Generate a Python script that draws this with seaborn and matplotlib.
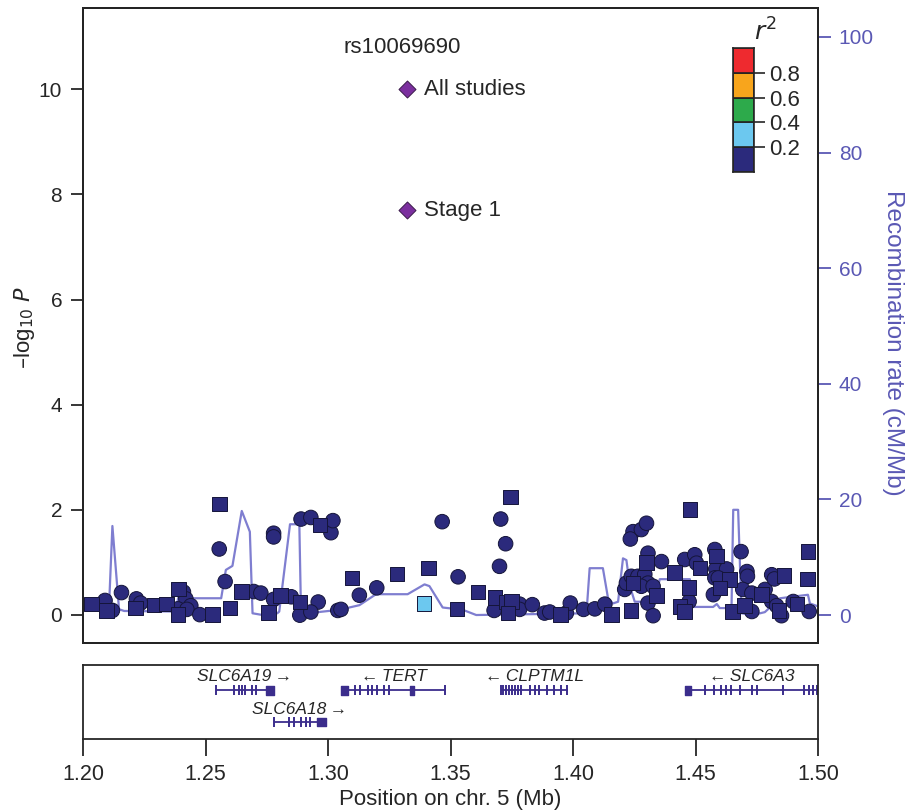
import numpy as np
import pandas as pd
import seaborn as sns
import matplotlib.pyplot as plt

# ---- data ----
circle_pos = [1.2090, 1.2120, 1.2157, 1.2218, 1.2235, 1.2410, 1.2420, 1.2387, 1.2440, 1.2424,
              1.2477, 1.2556, 1.2580, 1.2697, 1.2726, 1.2778, 1.2778, 1.2778, 1.2850, 1.2960,
              1.2885, 1.2930, 1.3040, 1.2890, 1.2930, 1.3012, 1.3020,
              1.3053, 1.3128, 1.3199, 1.3466, 1.3531, 1.3705, 1.3725, 1.3700, 1.3678, 1.3782,
              1.3782, 1.3834, 1.3884, 1.3905, 1.3973, 1.3989, 1.4043,
              1.4089, 1.4130, 1.4211, 1.4218, 1.4238, 1.4245, 1.4234, 1.4279, 1.4300, 1.4306,
              1.4265, 1.4293, 1.4306, 1.4279, 1.4327, 1.4306, 1.4327, 1.4361, 1.4456, 1.4497,
              1.4504, 1.4474, 1.4579, 1.4583, 1.4627, 1.4579, 1.4593, 1.4573, 1.4686, 1.4710,
              1.4712, 1.4693, 1.4730, 1.4730, 1.4784, 1.4811, 1.4822, 1.4811, 1.4831, 1.4851,
              1.4899, 1.4964]
circle_logp = [0.27, 0.08, 0.42, 0.30, 0.22, 0.43, 0.30, 0.11, 0.17, 0.10,
               0.00, 1.25, 0.63, 0.44, 0.41, 1.55, 1.48, 0.29, 0.34, 0.24,
               -0.01, 0.05, 0.08, 1.82, 1.85, 1.56, 1.79,
               0.10, 0.37, 0.51, 1.77, 0.72, 1.82, 1.35, 0.92, 0.08, 0.20,
               0.10, 0.19, 0.03, 0.05, 0.03, 0.22, 0.10,
               0.11, 0.20, 0.48, 0.60, 0.73, 1.58, 1.44, 1.62, 1.74, 1.17,
               0.73, 0.77, 0.60, 0.54, 0.54, 0.22, -0.02, 1.01, 1.05, 1.14,
               0.98, 0.25, 1.24, 0.87, 0.87, 0.70, 0.70, 0.38, 1.20, 0.82,
               0.73, 0.48, 0.41, 0.06, 0.48, 0.76, 0.68, 0.25, 0.17, -0.02,
               0.25, 0.06]

square_pos = [1.2034, 1.2095, 1.2215, 1.2289, 1.2340, 1.2390, 1.2387, 1.2529, 1.2557, 1.2600,
              1.2647, 1.2756, 1.2806, 1.2885, 1.2967,
              1.3098, 1.3282, 1.3411, 1.3527, 1.3613, 1.3682, 1.3746, 1.3727, 1.3748, 1.3734,
              1.3948,
              1.4157, 1.4236, 1.4300, 1.4245, 1.4340, 1.4415, 1.4518, 1.4477, 1.4474, 1.4436,
              1.4454, 1.4586, 1.4638, 1.4600, 1.4651, 1.4699, 1.4770, 1.4862, 1.4840, 1.4915,
              1.4960, 1.4956]
square_logp = [0.20, 0.08, 0.13, 0.18, 0.20, 0.49, 0.00, 0.00, 2.11, 0.13,
               0.44, 0.04, 0.36, 0.24, 1.71,
               0.70, 0.77, 0.89, 0.11, 0.43, 0.33, 2.24, 0.24, 0.25, 0.03,
               0.00,
               0.00, 0.08, 0.99, 0.60, 0.36, 0.80, 0.89, 2.00, 0.52, 0.16,
               0.06, 1.12, 0.67, 0.51, 0.06, 0.17, 0.38, 0.74, 0.08, 0.20,
               1.20, 0.68]

# one SNP with r2 in 0.2-0.4
ld_pos = [1.3392]
ld_logp = [0.21]

# index SNP rs10069690
top_pos = [1.3323, 1.3323]
top_logp = [10.0, 7.70]
top_labels = ["All studies", "Stage 1"]

recomb_pos = [1.2011, 1.2106, 1.2120, 1.2147, 1.2168, 1.2380, 1.2388, 1.2564, 1.2583, 1.2610,
              1.2648, 1.2681, 1.2692, 1.2733, 1.2793, 1.2801, 1.2845, 1.2883, 1.2890, 1.2937,
              1.3046, 1.3128, 1.3196, 1.3325, 1.3394, 1.3414, 1.3468, 1.3550, 1.3605, 1.4055,
              1.4068, 1.4122, 1.4143, 1.4163, 1.4184, 1.4204, 1.4218, 1.4232, 1.4252, 1.4334,
              1.4354, 1.4477, 1.4490, 1.4572, 1.4587, 1.4599, 1.4647, 1.4654, 1.4674, 1.4688,
              1.4735, 1.4783, 1.4845, 1.4959, 1.4967, 1.5000]
recomb_rate = [1.2, 1.2, 15.4, 1.0, 0.7, 0.6, 2.9, 2.9, 7.8, 8.5,
               18.0, 14.4, 0.3, 0.0, 0.3, 0.6, 15.7, 15.7, 0.0, 0.4,
               0.9, 1.7, 3.6, 3.6, 5.3, 5.0, 1.3, 0.9, 0.0, 0.3,
               8.1, 8.1, 2.9, 2.0, 2.3, 9.8, 9.5, 5.0, 2.3, 2.3,
               6.2, 6.2, 1.4, 1.4, 1.9, 1.2, 1.2, 18.2, 18.2, 0.3,
               0.0, 0.5, 2.9, 3.5, 2.0, 1.5]

gene_names = ["SLC6A19", "TERT", "CLPTM1L", "SLC6A3", "SLC6A18"]
gene_start = [1.2543, 1.3054, 1.3705, 1.4457, 1.2780]
gene_end = [1.2778, 1.3482, 1.3979, 1.5000, 1.2990]
gene_strand = ["+", "-", "-", "-", "+"]
gene_row = [0, 0, 0, 0, 1]
gene_exons = [
    [1.2543, 1.2616, 1.2636, 1.2649, 1.2663, 1.2688, 1.2707],
    [1.3112, 1.3131, 1.3164, 1.3179, 1.3202, 1.3227, 1.3247, 1.3478],
    [1.3705, 1.3716, 1.3727, 1.3738, 1.3749, 1.3762, 1.3775, 1.3786, 1.3825, 1.3844,
     1.3863, 1.3892, 1.3921, 1.3950, 1.3975],
    [1.4538, 1.4577, 1.4605, 1.4625, 1.4644, 1.4683, 1.4731, 1.4750, 1.4856, 1.4943,
     1.4962, 1.4981, 1.4995],
    [1.2780, 1.2841, 1.2860, 1.2889, 1.2909, 1.2928],
]
gene_blocks = [
    [(1.2746, 0.0032)],
    [(1.3054, 0.0029), (1.3333, 0.0019)],
    [],
    [(1.4457, 0.0023)],
    [(1.2957, 0.0033)],
]

r2_bins = ["0.0-0.2", "0.2-0.4", "0.4-0.6", "0.6-0.8", "0.8-1.0"]
r2_colors = ["#2b2a7c", "#6cc8ef", "#2daa4b", "#f8a51c", "#ee2a2f"]

purple_txt = "#5a58b4"
recomb_col = "#7f7ed0"

snps = pd.DataFrame({
    "pos": circle_pos + square_pos + ld_pos,
    "logp": circle_logp + square_logp + ld_logp,
    "shape": ["circle"] * len(circle_pos) + ["square"] * (len(square_pos) + len(ld_pos)),
    "r2": [r2_bins[0]] * (len(circle_pos) + len(square_pos)) + [r2_bins[1]],
})
top = pd.DataFrame({"pos": top_pos, "logp": top_logp})
recomb = pd.DataFrame({"pos": recomb_pos, "rate": recomb_rate})

sns.set_style("ticks")
plt.rcParams["font.family"] = ["Liberation Sans", "DejaVu Sans"]

fig = plt.figure(figsize=(9.11, 8.11), dpi=100)
W, H = 911, 811
ax = fig.add_axes([83 / W, 1 - 643 / H, 735 / W, 635 / H])
ax2 = ax.twinx()
ax.set_zorder(ax2.get_zorder() + 1)
ax.patch.set_visible(False)

# recombination rate
sns.lineplot(data=recomb, x="pos", y="rate", ax=ax2, color=recomb_col, lw=1.6,
             sort=False, estimator=None)
ax2.set_ylim(-4.84, 105.0)
ax2.set_yticks([0, 20, 40, 60, 80, 100])
ax2.tick_params(axis="y", colors=purple_txt, labelsize=15, length=9, width=1.3, pad=6)
ax2.set_ylabel("Recombination rate (cM/Mb)", color=purple_txt, fontsize=17.5,
               rotation=270, va="center")
ax2.yaxis.set_label_coords(1.102, 0.472)
for s in ax2.spines.values():
    s.set_color("black")
    s.set_linewidth(1.3)

# SNPs
sns.scatterplot(data=snps, x="pos", y="logp", hue="r2", style="shape",
                hue_order=r2_bins, palette=dict(zip(r2_bins, r2_colors)),
                markers={"circle": "o", "square": "s"}, s=110,
                edgecolor="#15153a", linewidth=0.7, legend=False, ax=ax)
sns.scatterplot(data=top, x="pos", y="logp", marker="D", s=75, color="#7b2f9e",
                edgecolor="#3a1a4a", linewidth=0.7, legend=False, ax=ax)
for x, y, lab in zip(top_pos, top_logp, top_labels):
    ax.text(x + 0.0068, y, lab, fontsize=16, va="center", ha="left")
ax.text(1.3304, 10.80, "rs10069690", fontsize=16, va="center", ha="center")

ax.set_xlim(1.20, 1.50)
ax.set_ylim(-0.54, 11.55)
ax.set_xticks([])
ax.set_yticks([0, 2, 4, 6, 8, 10])
ax.tick_params(axis="y", labelsize=15, length=9, width=1.3, pad=6)
ax.set_xlabel("")
ax.set_ylabel(r"–log$_{10}$ $\it{P}$", fontsize=16, va="center")
ax.yaxis.set_label_coords(-0.079, 0.497)
for s in ax.spines.values():
    s.set_linewidth(1.3)
ax2.set_xlabel("")

# r2 legend
axl = fig.add_axes([733 / W, 1 - 172 / H, 21 / W, 124 / H])
axl.bar([0] * 5, [0.2] * 5, bottom=[0, 0.2, 0.4, 0.6, 0.8], width=1.0,
        color=r2_colors, edgecolor="#222222", linewidth=1.2)
axl.set_xlim(-0.5, 0.5)
axl.set_ylim(0, 1)
axl.set_xticks([])
axl.yaxis.tick_right()
axl.set_yticks([0.2, 0.4, 0.6, 0.8])
axl.set_yticklabels(["0.2", "0.4", "0.6", "0.8"])
axl.tick_params(axis="y", labelsize=16, length=8, width=1.2, pad=3)
for s in axl.spines.values():
    s.set_linewidth(1.2)
axl.text(1.55, 1.02, r"$r^2$", transform=axl.transAxes, fontsize=18,
         ha="center", va="bottom")

# gene track
axg = fig.add_axes([83 / W, 1 - 739 / H, 735 / W, 74 / H])
axg.set_xlim(1.20, 1.50)
axg.set_ylim(0, 1)
row_y = [0.66, 0.23]
lab_y = [0.85, 0.40]
gcol = "#3b2d8c"
for name, st, en, strand, row, exons, blocks in zip(gene_names, gene_start, gene_end,
                                                    gene_strand, gene_row, gene_exons,
                                                    gene_blocks):
    y = row_y[row]
    axg.hlines(y, st, en, color=gcol, lw=1.3)
    axg.vlines(exons, y - 0.07, y + 0.07, color=gcol, lw=1.4)
    for b0, bw in blocks:
        axg.broken_barh([(b0, bw)], (y - 0.06, 0.12), color=gcol)
    label = f"{name}\u2009\u2192" if strand == "+" else f"\u2190\u2009{name}"
    axg.text((st + en) / 2, lab_y[row], label, fontsize=12.5, style="italic",
             ha="center", va="center")

axg.set_yticks([])
axg.set_xticks([1.20, 1.25, 1.30, 1.35, 1.40, 1.45, 1.50])
axg.set_xticklabels(["1.20", "1.25", "1.30", "1.35", "1.40", "1.45", "1.50"])
axg.tick_params(axis="x", labelsize=15.5, length=12, width=1.3, pad=6)
axg.set_xlabel("Position on chr. 5 (Mb)", fontsize=16, labelpad=3)
for s in axg.spines.values():
    s.set_linewidth(1.3)

fig.savefig("out.png", dpi=100)
